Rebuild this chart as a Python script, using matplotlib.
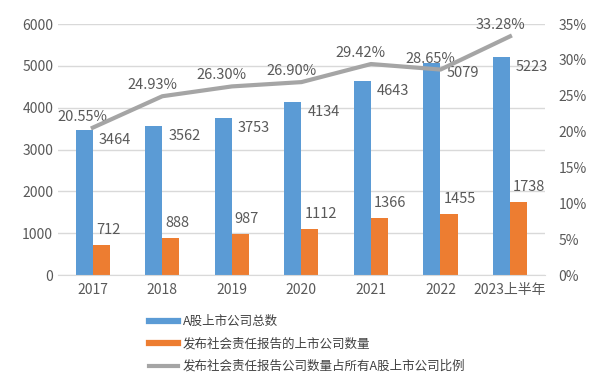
import numpy as np
import matplotlib.pyplot as plt
from matplotlib.lines import Line2D

plt.rcParams['font.family'] = ['Noto Sans CJK SC', 'DejaVu Sans']

years = ['2017', '2018', '2019', '2020', '2021', '2022', '2023上半年']
total = [3464, 3562, 3753, 4134, 4643, 5079, 5223]
csr = [712, 888, 987, 1112, 1366, 1455, 1738]
ratio = [20.55, 24.93, 26.30, 26.90, 29.42, 28.65, 33.28]

blue = '#5B9BD5'
orange = '#ED7D31'
grey = '#A5A5A5'
txt = '#595959'

fig = plt.figure(figsize=(6, 3.81), dpi=100)
ax = fig.add_axes([0.0967, 0.278, 0.8113, 0.659])

x = np.arange(len(years))
w = 0.245
ax.bar(x - w/2, total, w, color=blue, zorder=2)
ax.bar(x + w/2, csr, w, color=orange, zorder=2)

ax.set_xlim(-0.5, len(years) - 0.5)
ax.set_ylim(0, 6000)
ax.set_yticks(range(0, 6001, 1000))
ax.set_xticks(x)
ax.set_xticklabels(years)
ax.grid(axis='y', color='#D9D9D9', linewidth=1, zorder=0)
for s in ['top', 'left', 'right']:
    ax.spines[s].set_visible(False)
ax.spines['bottom'].set_color('#D9D9D9')
ax.tick_params(axis='both', length=0, colors=txt, labelsize=10)
ax.tick_params(axis='x', pad=6)

# bar labels
for i in range(len(years)):
    ax.annotate(str(total[i]), (x[i], total[i]), xytext=(6, -10),
                textcoords='offset pixels', ha='left', va='center',
                color=txt, fontsize=10.5, zorder=5)
    ax.annotate(str(csr[i]), (x[i], csr[i]), xytext=(3, 15),
                textcoords='offset pixels', ha='left', va='center',
                color=txt, fontsize=10.5, zorder=5)

ax2 = ax.twinx()
ax2.plot(x, ratio, color=grey, linewidth=3, zorder=4)
ax2.set_ylim(0, 35)
ax2.set_yticks(range(0, 36, 5))
ax2.set_yticklabels([f'{v}%' for v in range(0, 36, 5)])
for s in ['top', 'left', 'right', 'bottom']:
    ax2.spines[s].set_visible(False)
ax2.tick_params(axis='y', length=0, colors=txt, labelsize=10, pad=10)

for i in range(len(years)):
    ax2.annotate(f'{ratio[i]:.2f}%', (x[i], ratio[i]), xytext=(-10, 11),
                 textcoords='offset pixels', ha='center', va='center',
                 color=txt, fontsize=10.5)

handles = [Line2D([0], [0], color=blue, lw=4.5),
           Line2D([0], [0], color=orange, lw=4.5),
           Line2D([0], [0], color=grey, lw=3)]
labels = ['A股上市公司总数', '发布社会责任报告的上市公司数量',
          '发布社会责任报告公司数量占所有A股上市公司比例']
fig.legend(handles, labels, loc='center left', bbox_to_anchor=(0.238, 0.097),
           frameon=False, fontsize=9, handlelength=2.3, handletextpad=0.4,
           labelspacing=0.75, borderpad=0, labelcolor='#404040')

fig.savefig('out.png', dpi=100)
